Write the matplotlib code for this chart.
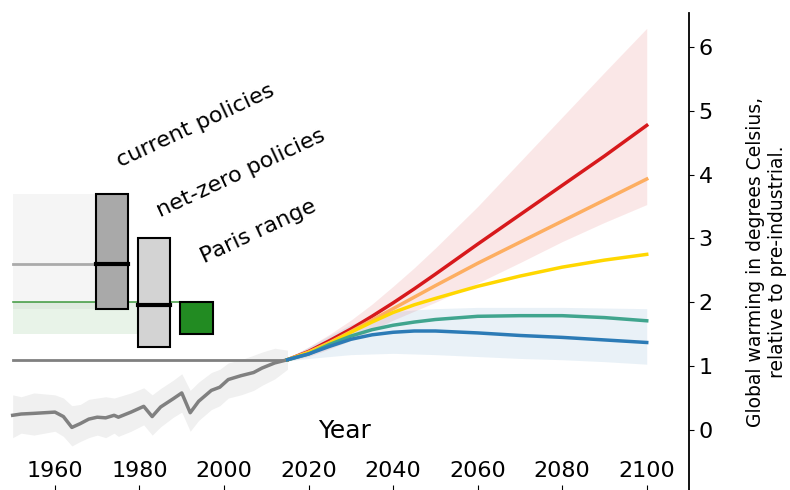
import matplotlib.pyplot as plt

# observed warming since 1950
hist_years = [1950, 1952, 1955, 1960, 1962, 1964, 1966, 1968, 1970, 1972, 1974, 1975, 1978, 1981,
              1983, 1985, 1988, 1990, 1992, 1994, 1997, 1999, 2001, 2004, 2007, 2009, 2012, 2015]
hist_temp = [0.23, 0.25, 0.26, 0.28, 0.21, 0.04, 0.10, 0.17, 0.20, 0.19, 0.23, 0.20, 0.28, 0.37,
             0.21, 0.36, 0.49, 0.58, 0.27, 0.45, 0.62, 0.67, 0.79, 0.85, 0.90, 0.97, 1.05, 1.10]
hist_hi = [0.55, 0.52, 0.58, 0.55, 0.50, 0.38, 0.40, 0.48, 0.50, 0.52, 0.50, 0.52, 0.58, 0.66,
           0.55, 0.65, 0.78, 0.88, 0.62, 0.75, 0.90, 0.95, 1.05, 1.10, 1.17, 1.22, 1.28, 1.25]
hist_lo = [-0.12, -0.05, -0.08, -0.02, -0.10, -0.25, -0.18, -0.12, -0.08, -0.12, -0.05, -0.10, -0.02, 0.08,
           -0.08, 0.05, 0.20, 0.28, -0.02, 0.15, 0.32, 0.38, 0.50, 0.55, 0.62, 0.70, 0.80, 0.95]

# scenario projections
proj_years = [2015, 2020, 2025, 2030, 2035, 2040, 2045, 2050, 2060, 2070, 2080, 2090, 2100]
proj_red = [1.10, 1.23, 1.40, 1.58, 1.78, 1.99, 2.21, 2.44, 2.91, 3.37, 3.83, 4.29, 4.77]
proj_orange = [1.10, 1.22, 1.37, 1.54, 1.72, 1.90, 2.08, 2.26, 2.61, 2.94, 3.27, 3.60, 3.93]
proj_yellow = [1.10, 1.21, 1.36, 1.53, 1.69, 1.84, 1.96, 2.06, 2.25, 2.41, 2.55, 2.66, 2.75]
proj_teal = [1.10, 1.19, 1.34, 1.47, 1.57, 1.64, 1.69, 1.73, 1.78, 1.79, 1.79, 1.76, 1.71]
proj_blue = [1.10, 1.19, 1.31, 1.42, 1.49, 1.53, 1.55, 1.55, 1.52, 1.48, 1.45, 1.41, 1.37]
red_hi = [1.12, 1.30, 1.50, 1.72, 1.97, 2.25, 2.54, 2.85, 3.50, 4.20, 4.90, 5.60, 6.29]
red_lo = [1.08, 1.15, 1.27, 1.40, 1.56, 1.72, 1.86, 2.00, 2.30, 2.62, 2.95, 3.25, 3.53]
blue_hi = [1.12, 1.30, 1.48, 1.65, 1.77, 1.85, 1.88, 1.90, 1.92, 1.92, 1.92, 1.91, 1.90]
blue_lo = [1.08, 1.12, 1.15, 1.18, 1.19, 1.20, 1.19, 1.18, 1.15, 1.12, 1.10, 1.07, 1.03]

# policy boxes: (low, median, high)
box_labels = ['current policies', 'net-zero policies', 'Paris range']
box_x = [1973.5, 1983.5, 1993.5]
box_low = [1.9, 1.3, 1.5]
box_high = [3.7, 3.0, 2.0]
box_mid = [2.6, 1.95, None]
box_colors = ['darkgray', 'lightgray', 'forestgreen']
now_level = 1.1

fig = plt.figure(figsize=(7.9, 4.9), dpi=100)
ax = fig.add_axes([0, 0, 689 / 790, 477 / 490])

# reference bands and levels on the left
ax.fill_between([1950, box_x[0]], box_low[0], box_high[0], color='#f5f5f5', lw=0, zorder=1)
ax.plot([1950, box_x[0]], [box_mid[0]] * 2, color='#aaaaaa', lw=2, zorder=2)
ax.fill_between([1950, box_x[1]], box_low[2], box_high[2], color='forestgreen', alpha=0.1, lw=0, zorder=1)
ax.plot([1950, box_x[2]], [box_high[2]] * 2, color='forestgreen', lw=1.2, alpha=0.8, zorder=2)
ax.plot([1950, 2015], [now_level] * 2, color='gray', lw=2, zorder=2)

# boxes
w = 7.6
for x, lo, hi, mid, c in zip(box_x, box_low, box_high, box_mid, box_colors):
    ax.add_patch(plt.Rectangle((x - w / 2, lo), w, hi - lo, facecolor=c,
                               edgecolor='black', lw=1.5, zorder=4))
    if mid is not None:
        ax.plot([x - w / 2, x + w / 2], [mid, mid], color='black', lw=3, zorder=5)

for (tx, ty), lab in zip([(1975.5, 4.12), (1985.0, 3.33), (1995.4, 2.61)], box_labels):
    ax.text(tx, ty, lab, rotation=25, rotation_mode='anchor', ha='left', va='baseline', fontsize=16)

# history
ax.fill_between(hist_years, hist_lo, hist_hi, color='#f0f0f0', lw=0, zorder=1)
ax.plot(hist_years, hist_temp, color='gray', lw=2.5, zorder=3)

# projections
ax.fill_between(proj_years, red_lo, red_hi, color='#d7191c', alpha=0.1, lw=0, zorder=1)
ax.fill_between(proj_years, blue_lo, blue_hi, color='#2c7bb6', alpha=0.1, lw=0, zorder=1)
ax.plot(proj_years, proj_red, color='#d7191c', lw=2.5, zorder=3)
ax.plot(proj_years, proj_orange, color='#fdae61', lw=2.5, zorder=3)
ax.plot(proj_years, proj_yellow, color='#ffd700', lw=2.5, zorder=3)
ax.plot(proj_years, proj_teal, color='#40a58e', lw=2.5, zorder=3)
ax.plot(proj_years, proj_blue, color='#2c7bb6', lw=2.5, zorder=3)

ax.set_xlim(1947, 2110)
ax.set_ylim(-0.94, 6.53)
ax.spines['left'].set_visible(False)
ax.spines['top'].set_visible(False)
ax.spines['bottom'].set_visible(False)
ax.spines['right'].set_linewidth(1.3)

ax.set_xticks(range(1960, 2101, 20))
ax.tick_params(axis='x', direction='in', pad=-21, labelsize=16)
ax.yaxis.tick_right()
ax.set_yticks(range(0, 7))
ax.tick_params(axis='y', labelsize=16)

ax.set_xlabel('Year', fontsize=18)
ax.xaxis.set_label_coords(0.5, 0.149)
ax.yaxis.set_label_position('right')
ax.set_ylabel('Global warming in degrees Celsius,\nrelative to pre-industrial.', fontsize=13.5)
ax.yaxis.set_label_coords(1.083, 0.478)

fig.savefig('out.png', dpi=100)
